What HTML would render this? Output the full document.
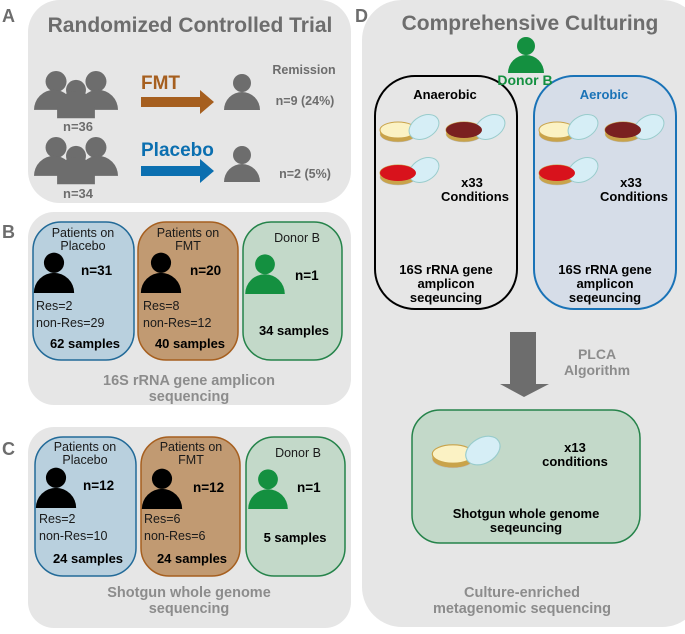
<!DOCTYPE html>
<html><head><meta charset="utf-8"><style>
html,body{margin:0;padding:0;background:#fff}
svg{display:block}
text{font-family:"Liberation Sans",Arial,sans-serif}
.b{font-weight:bold}
</style></head><body>
<svg width="685" height="634" viewBox="0 0 685 634" xmlns="http://www.w3.org/2000/svg">
<defs>
<g id="grp">
 <circle cx="-19" cy="-30" r="10"/><circle cx="19" cy="-30" r="10"/>
 <path d="M-40 -3 A19 19 0 0 1 -2 -3 Z"/><path d="M2 -3 A19 19 0 0 1 40 -3 Z"/>
 <circle cx="0" cy="-22" r="9.5"/>
 <path d="M-18 5 L-18 -3 A18 18 0 0 1 18 -3 L18 5 Z"/>
</g>
<g id="per">
 <circle cx="0" cy="-27" r="9"/><path d="M-18 0 A18 18 0 0 1 18 0 Z"/>
</g>
<g id="plate">
 <ellipse cx="0" cy="4" rx="18" ry="8" fill="#c9a34a" stroke="#bbb" stroke-width="0.5"/>
 <rect x="-18" y="0" width="36" height="4" fill="#d9b458"/>
 <ellipse cx="0" cy="0" rx="18" ry="8" fill="#fbf2c4" stroke="#c9a34a" stroke-width="1"/>
 <ellipse cx="26" cy="-3" rx="16" ry="11" transform="rotate(-30 26 -3)" fill="#d6eef6" stroke="#9cc" stroke-width="1"/>
</g>
</defs>
<!-- Panel A -->
<text x="2" y="22" font-size="18" class="b" fill="#6d6d6d">A</text>
<rect x="28" y="0" width="323" height="203" rx="32" fill="#e6e6e6"/>
<text x="190" y="32" font-size="21" class="b" fill="#6d6d6d" text-anchor="middle">Randomized Controlled Trial</text>
<g fill="#6d6d6d">
 <use href="#grp" transform="translate(76,113) scale(1.05)"/>
 <use href="#grp" transform="translate(76,179) scale(1.05)"/>
 <use href="#per" transform="translate(242,110)"/>
 <use href="#per" transform="translate(242,182)"/>
</g>
<text x="78" y="131" font-size="13" class="b" fill="#6d6d6d" text-anchor="middle">n=36</text>
<text x="78" y="198" font-size="13" class="b" fill="#6d6d6d" text-anchor="middle">n=34</text>
<text x="141" y="89" font-size="19" class="b" fill="#a65f1f">FMT</text>
<path d="M141 97 H200 V90 L214 102 L200 114 V107 H141 Z" fill="#a65f1f"/>
<text x="141" y="156" font-size="19" class="b" fill="#0b6fb0">Placebo</text>
<path d="M141 166 H200 V159 L214 171 L200 183 V176 H141 Z" fill="#0b6fb0"/>
<text x="304" y="74" font-size="12.5" class="b" fill="#6d6d6d" text-anchor="middle">Remission</text>
<text x="305" y="105" font-size="12.5" class="b" fill="#6d6d6d" text-anchor="middle">n=9 (24%)</text>
<text x="305" y="178" font-size="12.5" class="b" fill="#6d6d6d" text-anchor="middle">n=2 (5%)</text>

<!-- Panel B -->
<text x="2" y="238" font-size="18" class="b" fill="#6d6d6d">B</text>
<rect x="28" y="212" width="323" height="193" rx="26" fill="#e6e6e6"/>
<rect x="33" y="222" width="101" height="138" rx="28" fill="#b9d0de" stroke="#226a98" stroke-width="1.5"/>
<rect x="138" y="222" width="100" height="138" rx="28" fill="#c19a72" stroke="#a65f1f" stroke-width="1.5"/>
<rect x="243" y="222" width="99" height="138" rx="28" fill="#c3d9c9" stroke="#25834a" stroke-width="1.5"/>
<g font-size="12.5" fill="#1a1a1a" text-anchor="middle">
<text x="83" y="237">Patients on</text><text x="83" y="250">Placebo</text>
<text x="188" y="237">Patients on</text><text x="188" y="250">FMT</text>
<text x="297" y="242">Donor B</text>
</g>
<use href="#per" transform="translate(54,293) scale(1.12)" fill="#000"/>
<use href="#per" transform="translate(161,293) scale(1.12)" fill="#000"/>
<use href="#per" transform="translate(265,294) scale(1.1)" fill="#149040"/>
<g font-size="13.5" class="b" fill="#000">
<text x="81" y="275">n=31</text><text x="190" y="275">n=20</text><text x="295" y="280">n=1</text>
</g>
<g font-size="12.5" fill="#1a1a1a">
<text x="36" y="310">Res=2</text><text x="36" y="327">non-Res=29</text>
<text x="143" y="310">Res=8</text><text x="143" y="327">non-Res=12</text>
</g>
<g font-size="13" class="b" fill="#000" text-anchor="middle">
<text x="85" y="348">62 samples</text><text x="190" y="348">40 samples</text><text x="294" y="335">34 samples</text>
</g>
<text x="189" y="385" font-size="14.5" class="b" fill="#8c8c8c" text-anchor="middle">16S rRNA gene amplicon</text>
<text x="189" y="401" font-size="14.5" class="b" fill="#8c8c8c" text-anchor="middle">sequencing</text>

<!-- Panel C -->
<text x="2" y="455" font-size="18" class="b" fill="#6d6d6d">C</text>
<rect x="28" y="427" width="323" height="201" rx="26" fill="#e6e6e6"/>
<rect x="35" y="437" width="101" height="139" rx="28" fill="#b9d0de" stroke="#226a98" stroke-width="1.5"/>
<rect x="141" y="437" width="99" height="139" rx="28" fill="#c19a72" stroke="#a65f1f" stroke-width="1.5"/>
<rect x="246" y="437" width="99" height="139" rx="28" fill="#c3d9c9" stroke="#25834a" stroke-width="1.5"/>
<g font-size="12.5" fill="#1a1a1a" text-anchor="middle">
<text x="85" y="451">Patients on</text><text x="85" y="464">Placebo</text>
<text x="191" y="451">Patients on</text><text x="191" y="464">FMT</text>
<text x="298" y="457">Donor B</text>
</g>
<use href="#per" transform="translate(56,508) scale(1.12)" fill="#000"/>
<use href="#per" transform="translate(162,509) scale(1.12)" fill="#000"/>
<use href="#per" transform="translate(268,509) scale(1.1)" fill="#149040"/>
<g font-size="13.5" class="b" fill="#000">
<text x="83" y="490">n=12</text><text x="193" y="492">n=12</text><text x="297" y="492">n=1</text>
</g>
<g font-size="12.5" fill="#1a1a1a">
<text x="39" y="523">Res=2</text><text x="39" y="540">non-Res=10</text>
<text x="144" y="523">Res=6</text><text x="144" y="540">non-Res=6</text>
</g>
<g font-size="13" class="b" fill="#000" text-anchor="middle">
<text x="88" y="563">24 samples</text><text x="192" y="563">24 samples</text><text x="295" y="542">5 samples</text>
</g>
<text x="189" y="597" font-size="14.5" class="b" fill="#8c8c8c" text-anchor="middle">Shotgun whole genome</text>
<text x="189" y="613" font-size="14.5" class="b" fill="#8c8c8c" text-anchor="middle">sequencing</text>

<!-- Panel D -->
<text x="355" y="22" font-size="18" class="b" fill="#6d6d6d">D</text>
<rect x="362" y="0" width="340" height="627" rx="40" fill="#e6e6e6"/>
<text x="530" y="30" font-size="21" class="b" fill="#6d6d6d" text-anchor="middle">Comprehensive Culturing</text>
<use href="#per" transform="translate(526,73)" fill="#149040"/>
<rect x="375" y="76" width="142" height="233" rx="40" fill="none" stroke="#000" stroke-width="2"/>
<rect x="534" y="76" width="142" height="233" rx="40" fill="#d6dde8" stroke="#1a73b7" stroke-width="2"/>
<text x="525" y="85" font-size="14" class="b" fill="#149040" text-anchor="middle">Donor B</text>
<text x="445" y="99" font-size="13" class="b" fill="#000" text-anchor="middle">Anaerobic</text>
<text x="604" y="99" font-size="13" class="b" fill="#1a73b7" text-anchor="middle">Aerobic</text>
<use href="#plate" transform="translate(398,130)"/>
<use href="#plate" transform="translate(557,130)"/>
<use href="#plate" transform="translate(464,130)"/>
<use href="#plate" transform="translate(623,130)"/>
<use href="#plate" transform="translate(398,173)"/>
<use href="#plate" transform="translate(557,173)"/>
<g>
<ellipse cx="464" cy="130" rx="18" ry="8" fill="#7a2020"/>
<ellipse cx="623" cy="130" rx="18" ry="8" fill="#7a2020"/>
<ellipse cx="398" cy="173" rx="18" ry="8" fill="#d8121c"/>
<ellipse cx="557" cy="173" rx="18" ry="8" fill="#d8121c"/>
</g>
<g font-size="13" class="b" fill="#000" text-anchor="middle">
<text x="472" y="187">x33</text><text x="475" y="201">Conditions</text>
<text x="631" y="187">x33</text><text x="634" y="201">Conditions</text>
<text x="446" y="274">16S rRNA gene</text><text x="446" y="288">amplicon</text><text x="446" y="302">seqeuncing</text>
<text x="605" y="274">16S rRNA gene</text><text x="605" y="288">amplicon</text><text x="605" y="302">seqeuncing</text>
</g>
<path d="M510 332 H536 V384 H549 L524 397 L500 384 H510 Z" fill="#6d6d6d"/>
<text x="597" y="359" font-size="14" class="b" fill="#8c8c8c" text-anchor="middle">PLCA</text>
<text x="597" y="375" font-size="14" class="b" fill="#8c8c8c" text-anchor="middle">Algorithm</text>
<rect x="412" y="410" width="228" height="133" rx="28" fill="#c3d9c9" stroke="#25834a" stroke-width="1.5"/>
<use href="#plate" transform="translate(453,454) scale(1.15)"/>
<g font-size="13" class="b" fill="#000" text-anchor="middle">
<text x="575" y="452">x13</text><text x="575" y="466">conditions</text>
<text x="526" y="518">Shotgun whole genome</text><text x="526" y="532">seqeuncing</text>
</g>
<text x="522" y="597" font-size="14.5" class="b" fill="#8c8c8c" text-anchor="middle">Culture-enriched</text>
<text x="522" y="613" font-size="14.5" class="b" fill="#8c8c8c" text-anchor="middle">metagenomic sequencing</text>
</svg>
</body></html>
